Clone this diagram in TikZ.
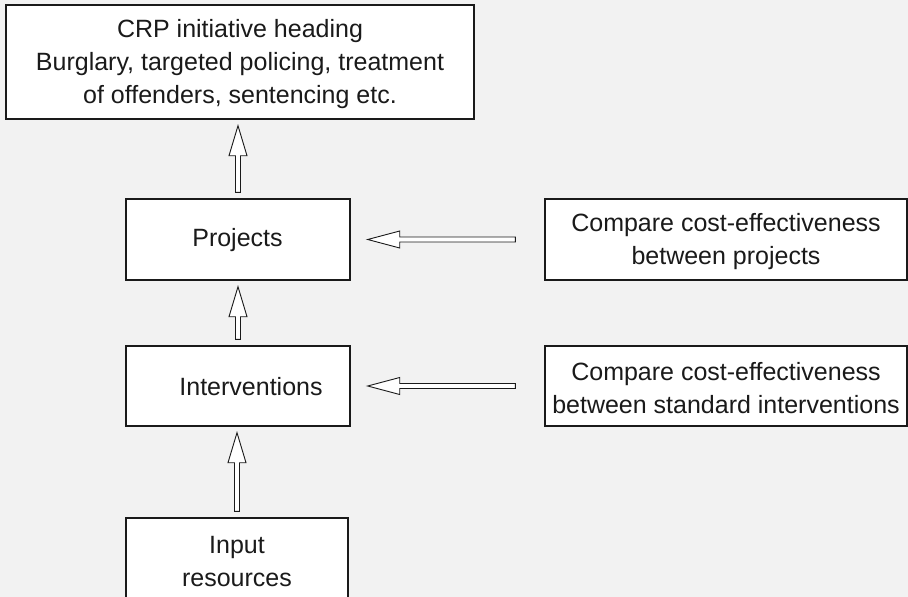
\documentclass[tikz,border=0pt]{standalone}
\usepackage{fontspec}
\setmainfont{Liberation Sans}
\usetikzlibrary{calc}
\definecolor{bg}{HTML}{F2F2F2}
\definecolor{ln}{HTML}{1A1A1A}
\tikzset{
  box/.style={draw=ln, line width=1.4pt, fill=white, inner sep=0pt},
  lab/.style={align=center, inner sep=0pt, text=ln, font=\fontsize{25}{33}\selectfont},
  blk/.style={draw=ln, line width=0.9pt, fill=white, line join=miter}
}
\newcommand\uparr[2]{%
  \draw[blk] let \p1=(#1.north), \p2=(#2.south) in
    (\x1-2.5pt,\y1+6pt) -- (\x1-2.5pt,\y2-36pt) -- (\x1-9pt,\y2-36pt) --
    (\x1,\y2-6pt) -- (\x1+9pt,\y2-36pt) -- (\x1+2.5pt,\y2-36pt) --
    (\x1+2.5pt,\y1+6pt) -- cycle;}
\newcommand\leftarr[2]{%
  \draw[blk] let \p1=(#1.west), \p2=(#2.east) in
    (\x1-29pt,\y1+2.5pt) -- (\x2+49pt,\y1+2.5pt) -- (\x2+49pt,\y1+8.5pt) --
    (\x2+17pt,\y1) -- (\x2+49pt,\y1-8.5pt) -- (\x2+49pt,\y1-2.5pt) --
    (\x1-29pt,\y1-2.5pt) -- cycle;}
\begin{document}
\begin{tikzpicture}[x=1pt,y=-1pt]
\fill[bg] (0,0) rectangle (908,597);
\useasboundingbox (0,0) rectangle (908,597);
\node[box, minimum width=468pt, minimum height=114pt] (crp) at (240,62) {};
\node[lab] (crpt) at (240,64)
  {CRP initiative heading\\Burglary, targeted policing, treatment\\of offenders, sentencing etc.};
\node[box, minimum width=224pt, minimum height=81pt] (proj) at (238,239.5) {};
\node[lab] (projt) at (237.5,240) {Projects};
\node[box, minimum width=224pt, minimum height=80pt] (int) at (238,386) {};
\node[lab] (intt) at (251,386.5) {Interventions};
\node[box, minimum width=222pt, minimum height=90pt] (inp) at (237,563) {};
\node[lab] (inpt) at (237,562) {Input\\resources};
\node[box, minimum width=362pt, minimum height=81pt] (cp) at (726,239.5) {};
\node[lab] (cpt) at (726,242) {Compare cost-effectiveness\\between projects};
\node[box, minimum width=362pt, minimum height=80pt] (ci) at (726,386) {};
\node[lab] (cit) at (726,388.5) {Compare cost-effectiveness\\between standard interventions};
\uparr{proj}{crp}
\uparr{int}{proj}
\uparr{inp}{int}
\leftarr{cp}{proj}
\leftarr{ci}{int}
\end{tikzpicture}
\end{document}
